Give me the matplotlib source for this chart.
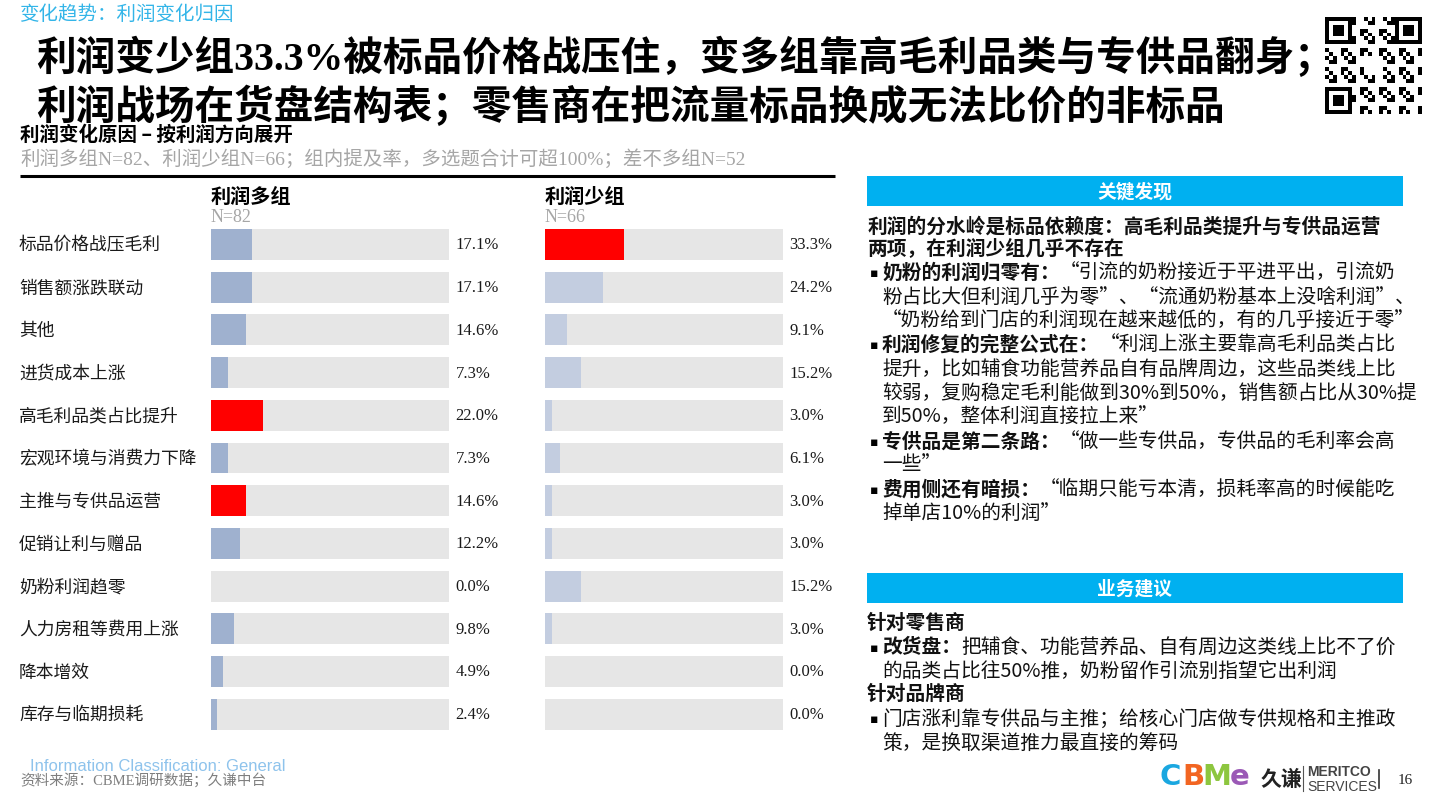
import matplotlib
matplotlib.use('Agg')
import matplotlib.pyplot as plt
import matplotlib.transforms as mtransforms
from matplotlib.patches import Rectangle
import numpy as np

plt.rcParams['font.family'] = ['Noto Sans CJK SC', 'DejaVu Sans']
MIX = ['Liberation Serif', 'Noto Sans CJK SC', 'DejaVu Sans']  # latin in serif, chinese fallback
CN = ['Noto Sans CJK SC', 'DejaVu Sans']

# ---- data ----
categories = ['标品价格战压毛利', '销售额涨跌联动', '其他', '进货成本上涨', '高毛利品类占比提升',
              '宏观环境与消费力下降', '主推与专供品运营', '促销让利与赠品', '奶粉利润趋零',
              '人力房租等费用上涨', '降本增效', '库存与临期损耗']
more_group = [17.1, 17.1, 14.6, 7.3, 22.0, 7.3, 14.6, 12.2, 0.0, 9.8, 4.9, 2.4]
less_group = [33.3, 24.2, 9.1, 15.2, 3.0, 6.1, 3.0, 3.0, 15.2, 3.0, 0.0, 0.0]
more_highlight = ['高毛利品类占比提升', '主推与专供品运营']
less_highlight = ['标品价格战压毛利']
group_names = ['利润多组', '利润少组']
group_n = ['N=82', 'N=66']

W, H = 1439, 803
fig = plt.figure(figsize=(W / 100, H / 100), dpi=100)

# background axes in pixel coords for all the slide text
bg = fig.add_axes([0, 0, 1, 1])
bg.set_xlim(0, W)
bg.set_ylim(H, 0)
bg.axis('off')

# header
bg.text(20, 14, '变化趋势：利润变化归因', fontsize=14, color='#33B5E8', va='center')
bg.text(36, 58, '利润变少组33.3%被标品价格战压住，变多组靠高毛利品类与专供品翻身；',
        fontsize=28.5, fontweight='bold', family=MIX, va='center')
bg.text(36, 107, '利润战场在货盘结构表；零售商在把流量标品换成无法比价的非标品',
        fontsize=28.5, fontweight='bold', family=MIX, va='center')
bg.text(20, 135, '利润变化原因 – 按利润方向展开', fontsize=14, fontweight='bold', va='center')
bg.text(20, 159, '利润多组N=82、利润少组N=66；组内提及率，多选题合计可超100%；差不多组N=52',
        fontsize=14, family=MIX, color='#A6A6A6', va='center')
bg.plot([20, 835], [177, 177], color='black', lw=2.2, solid_capstyle='butt')

# QR code placeholder
qr = fig.add_axes([1325 / W, 1 - 115 / H, 97 / W, 97 / H])
m = np.zeros((25, 25))
for i in range(25):
    for j in range(25):
        m[i, j] = 1 if (i * 7 + j * 3 + i * j) % 5 < 2 else 0
for (r0, c0) in [(0, 0), (0, 18), (18, 0)]:
    m[r0:r0 + 7, c0:c0 + 7] = 1
    m[r0 + 1:r0 + 6, c0 + 1:c0 + 6] = 0
    m[r0 + 2:r0 + 5, c0 + 2:c0 + 5] = 1
m[10:15, 10:15] = 0
qr.imshow(m, cmap='Greys', interpolation='nearest')
qr.axis('off')

# ---- bar panels ----
n = len(categories)
row_top, row_step = 245.5, 42.7
ax_top = row_top - row_step / 2
ax_bot = row_top + row_step * (n - 1) + row_step / 2
panels = [(211, more_group, more_highlight, '#9FB1CF'),
          (545, less_group, less_highlight, '#C3CDE0')]

for k, (left_px, vals, hl, base) in enumerate(panels):
    ax = fig.add_axes([left_px / W, 1 - ax_bot / H, 238 / W, (ax_bot - ax_top) / H])
    y = np.arange(n)
    ax.barh(y, [100] * n, height=0.725, color='#E6E6E6')
    colors = ['#FF0000' if c in hl else base for c in categories]
    ax.barh(y, vals, height=0.725, color=colors)
    ax.set_xlim(0, 100)
    ax.set_ylim(n - 0.5, -0.5)
    ax.axis('off')
    trans = mtransforms.blended_transform_factory(ax.transAxes, ax.transData)
    for i, v in enumerate(vals):
        ax.text(1.027, i, f'{v:.1f}%', transform=trans, va='center', ha='left',
                family=MIX, fontsize=12, color='#1a1a1a', clip_on=False)
    if k == 0:
        lt = mtransforms.blended_transform_factory(fig.transFigure, ax.transData)
        for i, c in enumerate(categories):
            ax.text(19 / W, i, c, transform=lt, va='center', ha='left', fontsize=12.8,
                    color='#1a1a1a', clip_on=False)
    bg.text(left_px, 196, group_names[k], fontsize=14.5, fontweight='bold', va='center')
    bg.text(left_px, 218, group_n[k], fontsize=13, family=MIX, color='#A6A6A6', va='center')


# ---- right panel ----
def rich(x, y, parts, size=14.2):
    prev = None
    for s, bold in parts:
        w = 'bold' if bold else 'normal'
        if prev is None:
            prev = bg.text(x, y, s, fontsize=size, fontweight=w, family=CN,
                           va='center', ha='left', color='#111111')
        else:
            prev = bg.annotate(s, xy=(1, 0), xycoords=prev, fontsize=size, fontweight=w,
                               family=CN, va='bottom', ha='left', color='#111111')
    return prev


def bullet(y):
    bg.text(870, y + 1, '▪', fontsize=9, va='center', ha='left', family=['DejaVu Sans'])


def header(y0, label):
    bg.add_patch(Rectangle((867, y0), 536, 30, color='#00B0F0', lw=0))
    bg.text(1135, y0 + 15, label, fontsize=13.5, fontweight='bold', color='white',
            ha='center', va='center')


header(177, '关键发现')
rich(868, 227, [('利润的分水岭是标品依赖度：高毛利品类提升与专供品运营', True)])
rich(868, 249, [('两项，在利润少组几乎不存在', True)])
bullet(273)
rich(882, 273, [('奶粉的利润归零有：', True), ('“引流的奶粉接近于平进平出，引流奶', False)])
rich(882, 297, [('粉占比大但利润几乎为零”、“流通奶粉基本上没啥利润”、', False)])
rich(882, 320, [('“奶粉给到门店的利润现在越来越低的，有的几乎接近于零”', False)])
bullet(345)
rich(882, 345, [('利润修复的完整公式在：', True), ('“利润上涨主要靠高毛利品类占比', False)])
rich(882, 369, [('提升，比如辅食功能营养品自有品牌周边，这些品类线上比', False)])
rich(882, 393, [('较弱，复购稳定毛利能做到30%到50%，销售额占比从30%提', False)])
rich(882, 416, [('到50%，整体利润直接拉上来”', False)])
bullet(442)
rich(882, 442, [('专供品是第二条路：', True), ('“做一些专供品，专供品的毛利率会高', False)])
rich(882, 465, [('一些”', False)])
bullet(490)
rich(882, 490, [('费用侧还有暗损：', True), ('“临期只能亏本清，损耗率高的时候能吃', False)])
rich(882, 513, [('掉单店10%的利润”', False)])

header(574, '业务建议')
rich(867, 623, [('针对零售商', True)])
bullet(648)
rich(882, 648, [('改货盘：', True), ('把辅食、功能营养品、自有周边这类线上比不了价', False)])
rich(882, 671, [('的品类占比往50%推，奶粉留作引流别指望它出利润', False)])
rich(867, 694, [('针对品牌商', True)])
bullet(719)
rich(882, 719, [('门店涨利靠专供品与主推；给核心门店做专供规格和主推政', False)])
rich(882, 743, [('策，是换取渠道推力最直接的筹码', False)])

# ---- footer ----
bg.text(30, 767, 'Information Classification: General', fontsize=12,
        family=['Liberation Sans'], color='#8EC3EC', va='center')
bg.text(20, 780, '资料来源：CBME调研数据；久谦中台', fontsize=10.5, family=MIX,
        color='#7F7F7F', va='center')

logo_x = [1170, 1193, 1217, 1240]
logo_l = ['C', 'B', 'M', 'e']
logo_c = ['#1AA7E0', '#F26522', '#8DC63F', '#9B59B6']
for x, l, c in zip(logo_x, logo_l, logo_c):
    bg.text(x, 777, l, fontsize=21, fontweight='bold', color=c, ha='center', va='center',
            family=['DejaVu Sans'])
bg.text(1281, 779, '久谦', fontsize=15, fontweight='bold', color='#222222', ha='center', va='center')
bg.plot([1303, 1303], [767, 792], color='#555555', lw=0.8)
bg.text(1307, 772, 'MERITCO', fontsize=10, fontweight='bold', color='#444444',
        family=['Liberation Sans Narrow', 'Liberation Sans'], va='center')
bg.text(1307, 787, 'SERVICES', fontsize=10, color='#444444',
        family=['Liberation Sans Narrow', 'Liberation Sans'], va='center')
bg.plot([1379, 1379], [771, 789], color='#333333', lw=1.2)
bg.text(1398, 781, '16', fontsize=11, family=MIX, color='#222222', va='center')

fig.savefig('out.png', dpi=100)
